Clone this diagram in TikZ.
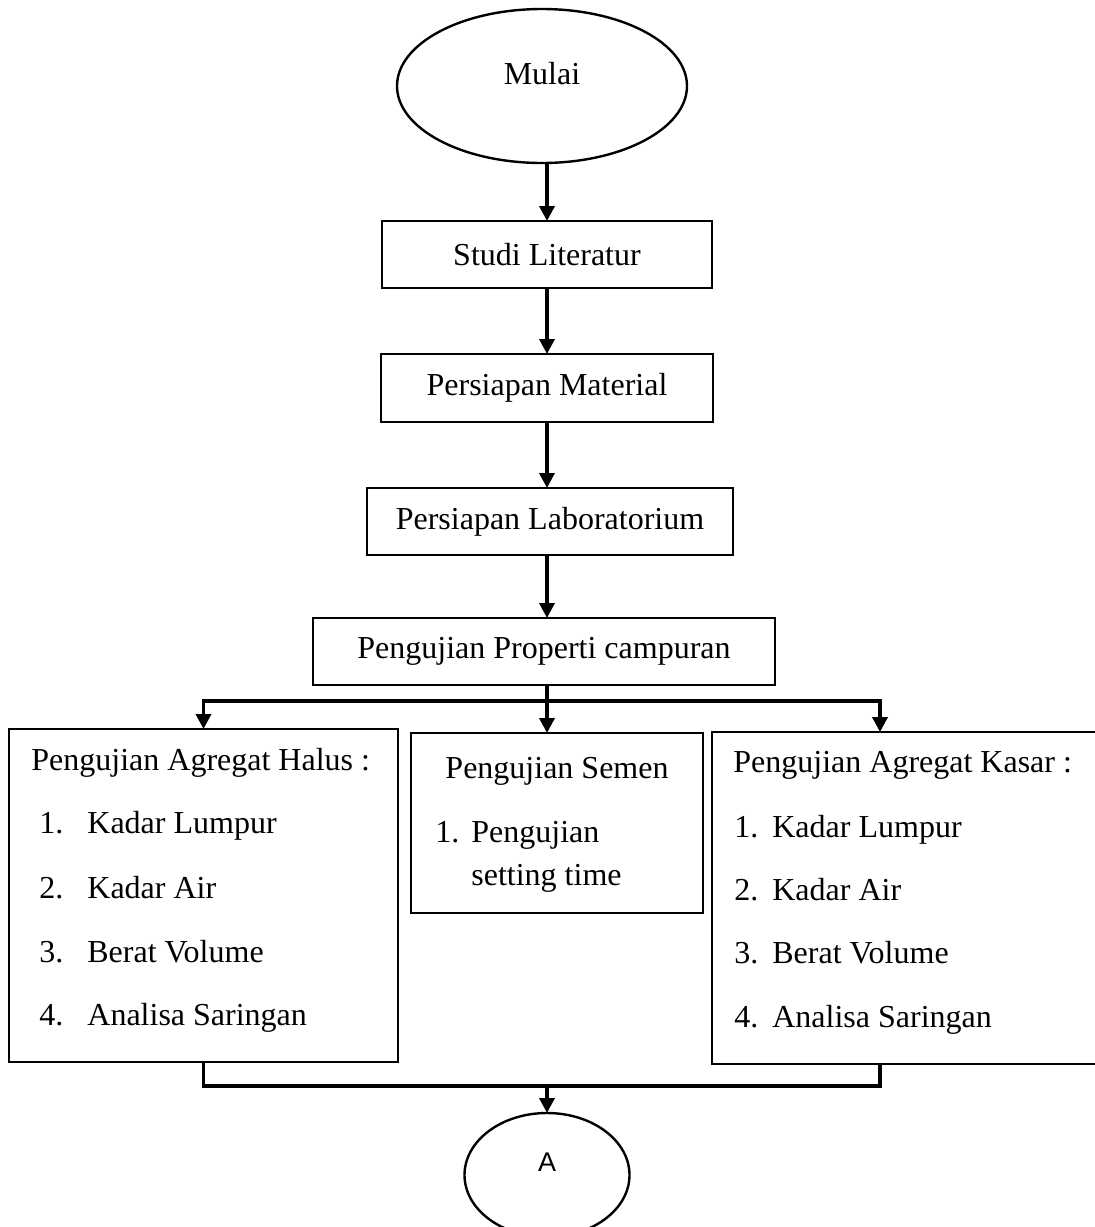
\documentclass[tikz,border=0pt]{standalone}
\usepackage{fontspec}
\setmainfont{Liberation Serif}
\newfontfamily\sansA{Liberation Sans}
\usetikzlibrary{shapes.geometric,arrows.meta}
\begin{document}
\begin{tikzpicture}[x=0.5pt,y=-0.5pt,
  font=\fontsize{16}{19}\selectfont,
  every label/.style={inner sep=0pt},
  boxwh/.style 2 args={draw,line width=1.1pt,rectangle,inner sep=0pt,outer sep=0pt,minimum width=#1,minimum height=#2},
  ellwh/.style 2 args={draw,line width=1.2pt,ellipse,inner sep=0pt,outer sep=0pt,minimum width=#1,minimum height=#2},
  ltext/.style n args={3}{label={[anchor=base west,xshift=#1,yshift=#2]north west:{#3}}},
  conn/.style={line width=1.8pt},
  arr/.style={line width=1.8pt,-{Triangle[width=7.5pt,length=7.5pt]}}]
\useasboundingbox (0,0) rectangle (1095,1227);

% start
\node[ellwh={145pt}{77pt},label={[yshift=6.25pt]center:Mulai}] (mulai) at (542,86) {};

% main boxes
\node[boxwh={165pt}{33.5pt}] (studi) at (547,254.5) {Studi Literatur};
\node[boxwh={166pt}{34pt}] (material) at (547,388) {Persiapan Material};
\node[boxwh={183pt}{33.5pt}] (lab) at (550,521.5) {Persiapan Laboratorium};
\node[boxwh={231pt}{33.5pt}] (properti) at (544,651.5) {Pengujian Properti campuran};

% left box
\node[boxwh={194.5pt}{166.5pt},
  ltext={11pt}{-20.5pt}{Pengujian Agregat Halus :},
  ltext={15pt}{-52pt}{\makebox[24pt][l]{1.}Kadar Lumpur},
  ltext={15pt}{-84.5pt}{\makebox[24pt][l]{2.}Kadar Air},
  ltext={15pt}{-116.5pt}{\makebox[24pt][l]{3.}Berat Volume},
  ltext={15pt}{-148pt}{\makebox[24pt][l]{4.}Analisa Saringan}] (halus) at (203.5,895.5) {};

% middle box
\node[boxwh={146pt}{90pt},
  label={[anchor=base,yshift=-22.5pt]north:Pengujian Semen},
  ltext={12pt}{-54.5pt}{\makebox[18pt][l]{1.}Pengujian},
  ltext={30pt}{-76pt}{setting time}] (semen) at (557,823) {};

% right box
\node[boxwh={194pt}{166pt},
  ltext={10.5pt}{-20pt}{Pengujian Agregat Kasar :},
  ltext={11pt}{-52.5pt}{\makebox[19pt][l]{1.}Kadar Lumpur},
  ltext={11pt}{-84pt}{\makebox[19pt][l]{2.}Kadar Air},
  ltext={11pt}{-115.5pt}{\makebox[19pt][l]{3.}Berat Volume},
  ltext={11pt}{-147.5pt}{\makebox[19pt][l]{4.}Analisa Saringan}] (kasar) at (906,898) {};

% connector end
\node[ellwh={82.5pt}{62pt},label={[yshift=6.25pt,font=\sansA\fontsize{13.5}{16}\selectfont]center:A}] (A) at (547,1175) {};

% helper coordinates
\coordinate (sp) at (547,0);
\coordinate (rx) at (880,0);
\coordinate (j1) at (547,701);
\coordinate (j2) at (547,1086);

% connectors
\draw[arr] (studi.north |- mulai.south) -- (studi.north);
\draw[arr] (studi.south) -- (material.north);
\draw[arr] (material.south) -- (material.south |- lab.north);
\draw[arr] (lab.south -| sp) -- (properti.north -| sp);
\draw[conn] (properti.south -| sp) -- (j1);
\draw[arr] (j1) -- (semen.north -| sp);
\draw[arr] (j1) -| (halus.north);
\draw[arr] (j1) -| (kasar.north -| rx);
\draw[conn] (halus.south) |- (j2) -| (kasar.south -| rx);
\draw[arr] (j2) -- (A.north);
\end{tikzpicture}
\end{document}
